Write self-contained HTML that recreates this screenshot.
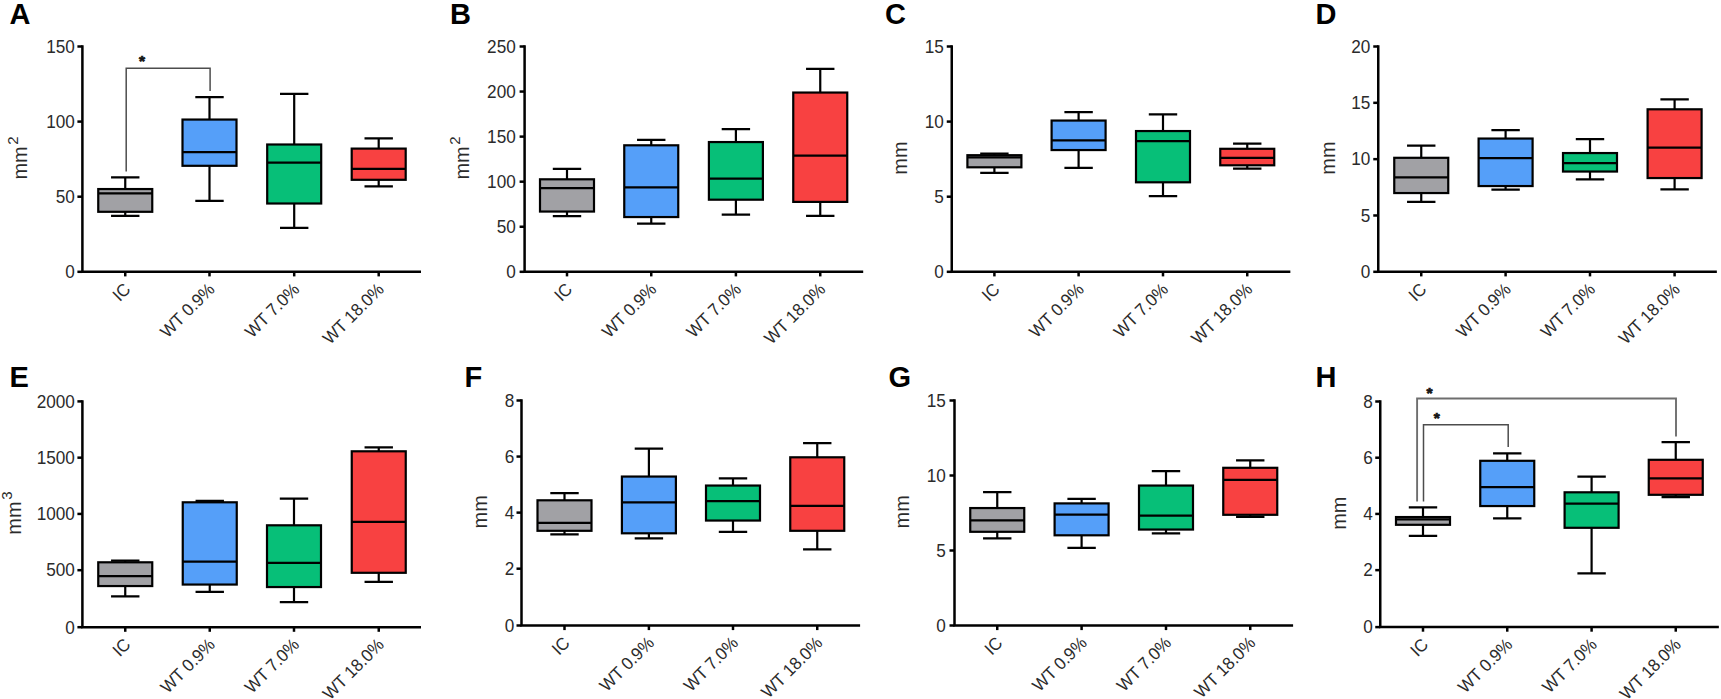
<!DOCTYPE html>
<html lang="en"><head><meta charset="utf-8"><title>Box plots A-H</title>
<style>html,body{margin:0;padding:0;background:#fff}body{width:1721px;height:699px;overflow:hidden}svg{display:block}</style>
</head><body>
<svg width="1721" height="699" viewBox="0 0 1721 699" font-family='"Liberation Sans", sans-serif'>
<rect width="1721" height="699" fill="#fff"/>
<g>
<text x="9.5" y="24.2" font-size="29" font-weight="bold" fill="#000">A</text>
<path d="M82.4 45.25V271.8H421.00" fill="none" stroke="#000" stroke-width="2.5" stroke-linejoin="miter"/>
<line x1="77.40" x2="82.4" y1="271.80" y2="271.80" stroke="#000" stroke-width="2.5"/>
<text transform="translate(74.80 278.10) scale(0.955 1)" font-size="18" text-anchor="end" fill="#2b2b2b">0</text>
<line x1="77.40" x2="82.4" y1="196.70" y2="196.70" stroke="#000" stroke-width="2.5"/>
<text transform="translate(74.80 203.00) scale(0.955 1)" font-size="18" text-anchor="end" fill="#2b2b2b">50</text>
<line x1="77.40" x2="82.4" y1="121.60" y2="121.60" stroke="#000" stroke-width="2.5"/>
<text transform="translate(74.80 127.90) scale(0.955 1)" font-size="18" text-anchor="end" fill="#2b2b2b">100</text>
<line x1="77.40" x2="82.4" y1="46.50" y2="46.50" stroke="#000" stroke-width="2.5"/>
<text transform="translate(74.80 52.80) scale(0.955 1)" font-size="18" text-anchor="end" fill="#2b2b2b">150</text>
<text transform="translate(27.30 179.55) rotate(-90)" font-size="20" fill="#2b2b2b">mm<tspan dy="-9.0" dx="1.6" font-size="15">2</tspan></text>
<line x1="125.25" x2="125.25" y1="271.8" y2="276.40" stroke="#000" stroke-width="2.5"/>
<text transform="translate(131.55 290.40) rotate(-45) scale(0.95 1)" font-size="17.6" text-anchor="end" fill="#2b2b2b">IC</text>
<line x1="209.5" x2="209.5" y1="271.8" y2="276.40" stroke="#000" stroke-width="2.5"/>
<text transform="translate(215.80 290.40) rotate(-45) scale(0.95 1)" font-size="17.6" text-anchor="end" fill="#2b2b2b">WT 0.9%</text>
<line x1="294.2" x2="294.2" y1="271.8" y2="276.40" stroke="#000" stroke-width="2.5"/>
<text transform="translate(300.50 290.40) rotate(-45) scale(0.95 1)" font-size="17.6" text-anchor="end" fill="#2b2b2b">WT 7.0%</text>
<line x1="378.7" x2="378.7" y1="271.8" y2="276.40" stroke="#000" stroke-width="2.5"/>
<text transform="translate(385.00 290.40) rotate(-45) scale(0.95 1)" font-size="17.6" text-anchor="end" fill="#2b2b2b">WT 18.0%</text>
<path d="M125.25 177.3V215.8M111.05 177.3H139.45M111.05 215.8H139.45" stroke="#000" stroke-width="2.2" fill="none"/>
<rect x="98.25" y="189.05" width="54.00" height="22.75" fill="#a1a1a5" stroke="#000" stroke-width="2.2"/>
<line x1="98.25" x2="152.25" y1="193.3" y2="193.3" stroke="#000" stroke-width="2.2"/>
<path d="M209.5 97.05V200.8M195.3 97.05H223.7M195.3 200.8H223.7" stroke="#000" stroke-width="2.2" fill="none"/>
<rect x="182.50" y="119.55" width="54.00" height="46.25" fill="#559ff9" stroke="#000" stroke-width="2.2"/>
<line x1="182.50" x2="236.50" y1="152.05" y2="152.05" stroke="#000" stroke-width="2.2"/>
<path d="M294.2 93.8V227.8M280.0 93.8H308.4M280.0 227.8H308.4" stroke="#000" stroke-width="2.2" fill="none"/>
<rect x="267.20" y="144.5" width="54.00" height="59.00" fill="#07bf78" stroke="#000" stroke-width="2.2"/>
<line x1="267.20" x2="321.20" y1="162.6" y2="162.6" stroke="#000" stroke-width="2.2"/>
<path d="M378.7 138.3V186.3M364.5 138.3H392.9M364.5 186.3H392.9" stroke="#000" stroke-width="2.2" fill="none"/>
<rect x="351.70" y="148.6" width="54.00" height="31.20" fill="#f84141" stroke="#000" stroke-width="2.2"/>
<line x1="351.70" x2="405.70" y1="168.9" y2="168.9" stroke="#000" stroke-width="2.2"/>
</g>
<g>
<text x="449.9" y="24.2" font-size="29" font-weight="bold" fill="#000">B</text>
<path d="M524.6 45.25V271.8H863.20" fill="none" stroke="#000" stroke-width="2.5" stroke-linejoin="miter"/>
<line x1="519.60" x2="524.6" y1="271.80" y2="271.80" stroke="#000" stroke-width="2.5"/>
<text transform="translate(515.75 278.10) scale(0.955 1)" font-size="18" text-anchor="end" fill="#2b2b2b">0</text>
<line x1="519.60" x2="524.6" y1="226.74" y2="226.74" stroke="#000" stroke-width="2.5"/>
<text transform="translate(515.75 233.04) scale(0.955 1)" font-size="18" text-anchor="end" fill="#2b2b2b">50</text>
<line x1="519.60" x2="524.6" y1="181.68" y2="181.68" stroke="#000" stroke-width="2.5"/>
<text transform="translate(515.75 187.98) scale(0.955 1)" font-size="18" text-anchor="end" fill="#2b2b2b">100</text>
<line x1="519.60" x2="524.6" y1="136.62" y2="136.62" stroke="#000" stroke-width="2.5"/>
<text transform="translate(515.75 142.92) scale(0.955 1)" font-size="18" text-anchor="end" fill="#2b2b2b">150</text>
<line x1="519.60" x2="524.6" y1="91.56" y2="91.56" stroke="#000" stroke-width="2.5"/>
<text transform="translate(515.75 97.86) scale(0.955 1)" font-size="18" text-anchor="end" fill="#2b2b2b">200</text>
<line x1="519.60" x2="524.6" y1="46.50" y2="46.50" stroke="#000" stroke-width="2.5"/>
<text transform="translate(515.75 52.80) scale(0.955 1)" font-size="18" text-anchor="end" fill="#2b2b2b">250</text>
<text transform="translate(469.30 179.55) rotate(-90)" font-size="20" fill="#2b2b2b">mm<tspan dy="-9.0" dx="1.6" font-size="15">2</tspan></text>
<line x1="567" x2="567" y1="271.8" y2="276.40" stroke="#000" stroke-width="2.5"/>
<text transform="translate(573.30 290.40) rotate(-45) scale(0.95 1)" font-size="17.6" text-anchor="end" fill="#2b2b2b">IC</text>
<line x1="651.25" x2="651.25" y1="271.8" y2="276.40" stroke="#000" stroke-width="2.5"/>
<text transform="translate(657.55 290.40) rotate(-45) scale(0.95 1)" font-size="17.6" text-anchor="end" fill="#2b2b2b">WT 0.9%</text>
<line x1="735.9" x2="735.9" y1="271.8" y2="276.40" stroke="#000" stroke-width="2.5"/>
<text transform="translate(742.20 290.40) rotate(-45) scale(0.95 1)" font-size="17.6" text-anchor="end" fill="#2b2b2b">WT 7.0%</text>
<line x1="820.25" x2="820.25" y1="271.8" y2="276.40" stroke="#000" stroke-width="2.5"/>
<text transform="translate(826.55 290.40) rotate(-45) scale(0.95 1)" font-size="17.6" text-anchor="end" fill="#2b2b2b">WT 18.0%</text>
<path d="M567 168.8V216.05M552.8 168.8H581.2M552.8 216.05H581.2" stroke="#000" stroke-width="2.2" fill="none"/>
<rect x="540.00" y="179.3" width="54.00" height="32.25" fill="#a1a1a5" stroke="#000" stroke-width="2.2"/>
<line x1="540.00" x2="594.00" y1="188.05" y2="188.05" stroke="#000" stroke-width="2.2"/>
<path d="M651.25 139.8V223.55M637.05 139.8H665.45M637.05 223.55H665.45" stroke="#000" stroke-width="2.2" fill="none"/>
<rect x="624.25" y="145.3" width="54.00" height="71.75" fill="#559ff9" stroke="#000" stroke-width="2.2"/>
<line x1="624.25" x2="678.25" y1="187.3" y2="187.3" stroke="#000" stroke-width="2.2"/>
<path d="M735.9 129.05V214.55M721.6999999999999 129.05H750.1M721.6999999999999 214.55H750.1" stroke="#000" stroke-width="2.2" fill="none"/>
<rect x="708.90" y="142.05" width="54.00" height="57.65" fill="#07bf78" stroke="#000" stroke-width="2.2"/>
<line x1="708.90" x2="762.90" y1="178.55" y2="178.55" stroke="#000" stroke-width="2.2"/>
<path d="M820.25 68.8V215.8M806.05 68.8H834.45M806.05 215.8H834.45" stroke="#000" stroke-width="2.2" fill="none"/>
<rect x="793.25" y="92.55" width="54.00" height="109.35" fill="#f84141" stroke="#000" stroke-width="2.2"/>
<line x1="793.25" x2="847.25" y1="155.55" y2="155.55" stroke="#000" stroke-width="2.2"/>
</g>
<g>
<text x="885.0" y="24.2" font-size="29" font-weight="bold" fill="#000">C</text>
<path d="M951.75 45.25V271.8H1290.35" fill="none" stroke="#000" stroke-width="2.5" stroke-linejoin="miter"/>
<line x1="946.75" x2="951.75" y1="271.80" y2="271.80" stroke="#000" stroke-width="2.5"/>
<text transform="translate(943.75 278.10) scale(0.955 1)" font-size="18" text-anchor="end" fill="#2b2b2b">0</text>
<line x1="946.75" x2="951.75" y1="196.70" y2="196.70" stroke="#000" stroke-width="2.5"/>
<text transform="translate(943.75 203.00) scale(0.955 1)" font-size="18" text-anchor="end" fill="#2b2b2b">5</text>
<line x1="946.75" x2="951.75" y1="121.60" y2="121.60" stroke="#000" stroke-width="2.5"/>
<text transform="translate(943.75 127.90) scale(0.955 1)" font-size="18" text-anchor="end" fill="#2b2b2b">10</text>
<line x1="946.75" x2="951.75" y1="46.50" y2="46.50" stroke="#000" stroke-width="2.5"/>
<text transform="translate(943.75 52.80) scale(0.955 1)" font-size="18" text-anchor="end" fill="#2b2b2b">15</text>
<text transform="translate(907.30 174.65) rotate(-90)" font-size="20" fill="#2b2b2b">mm</text>
<line x1="994.4" x2="994.4" y1="271.8" y2="276.40" stroke="#000" stroke-width="2.5"/>
<text transform="translate(1000.70 290.40) rotate(-45) scale(0.95 1)" font-size="17.6" text-anchor="end" fill="#2b2b2b">IC</text>
<line x1="1078.6" x2="1078.6" y1="271.8" y2="276.40" stroke="#000" stroke-width="2.5"/>
<text transform="translate(1084.90 290.40) rotate(-45) scale(0.95 1)" font-size="17.6" text-anchor="end" fill="#2b2b2b">WT 0.9%</text>
<line x1="1163" x2="1163" y1="271.8" y2="276.40" stroke="#000" stroke-width="2.5"/>
<text transform="translate(1169.30 290.40) rotate(-45) scale(0.95 1)" font-size="17.6" text-anchor="end" fill="#2b2b2b">WT 7.0%</text>
<line x1="1247.25" x2="1247.25" y1="271.8" y2="276.40" stroke="#000" stroke-width="2.5"/>
<text transform="translate(1253.55 290.40) rotate(-45) scale(0.95 1)" font-size="17.6" text-anchor="end" fill="#2b2b2b">WT 18.0%</text>
<path d="M994.4 153.7V172.8M980.1999999999999 153.7H1008.6M980.1999999999999 172.8H1008.6" stroke="#000" stroke-width="2.2" fill="none"/>
<rect x="967.40" y="155.2" width="54.00" height="12.10" fill="#a1a1a5" stroke="#000" stroke-width="2.2"/>
<line x1="967.40" x2="1021.40" y1="157.3" y2="157.3" stroke="#000" stroke-width="2.2"/>
<path d="M1078.6 112.05V167.8M1064.3999999999999 112.05H1092.8M1064.3999999999999 167.8H1092.8" stroke="#000" stroke-width="2.2" fill="none"/>
<rect x="1051.60" y="120.55" width="54.00" height="29.50" fill="#559ff9" stroke="#000" stroke-width="2.2"/>
<line x1="1051.60" x2="1105.60" y1="140.3" y2="140.3" stroke="#000" stroke-width="2.2"/>
<path d="M1163 114.3V196.05M1148.8 114.3H1177.2M1148.8 196.05H1177.2" stroke="#000" stroke-width="2.2" fill="none"/>
<rect x="1136.00" y="131.05" width="54.00" height="51.25" fill="#07bf78" stroke="#000" stroke-width="2.2"/>
<line x1="1136.00" x2="1190.00" y1="141.05" y2="141.05" stroke="#000" stroke-width="2.2"/>
<path d="M1247.25 143.55V168.55M1233.05 143.55H1261.45M1233.05 168.55H1261.45" stroke="#000" stroke-width="2.2" fill="none"/>
<rect x="1220.25" y="148.8" width="54.00" height="16.50" fill="#f84141" stroke="#000" stroke-width="2.2"/>
<line x1="1220.25" x2="1274.25" y1="157.8" y2="157.8" stroke="#000" stroke-width="2.2"/>
</g>
<g>
<text x="1315.6" y="24.2" font-size="29" font-weight="bold" fill="#000">D</text>
<path d="M1378.25 45.25V271.8H1716.85" fill="none" stroke="#000" stroke-width="2.5" stroke-linejoin="miter"/>
<line x1="1373.25" x2="1378.25" y1="271.80" y2="271.80" stroke="#000" stroke-width="2.5"/>
<text transform="translate(1370.25 278.10) scale(0.955 1)" font-size="18" text-anchor="end" fill="#2b2b2b">0</text>
<line x1="1373.25" x2="1378.25" y1="215.48" y2="215.48" stroke="#000" stroke-width="2.5"/>
<text transform="translate(1370.25 221.78) scale(0.955 1)" font-size="18" text-anchor="end" fill="#2b2b2b">5</text>
<line x1="1373.25" x2="1378.25" y1="159.15" y2="159.15" stroke="#000" stroke-width="2.5"/>
<text transform="translate(1370.25 165.45) scale(0.955 1)" font-size="18" text-anchor="end" fill="#2b2b2b">10</text>
<line x1="1373.25" x2="1378.25" y1="102.82" y2="102.82" stroke="#000" stroke-width="2.5"/>
<text transform="translate(1370.25 109.12) scale(0.955 1)" font-size="18" text-anchor="end" fill="#2b2b2b">15</text>
<line x1="1373.25" x2="1378.25" y1="46.50" y2="46.50" stroke="#000" stroke-width="2.5"/>
<text transform="translate(1370.25 52.80) scale(0.955 1)" font-size="18" text-anchor="end" fill="#2b2b2b">20</text>
<text transform="translate(1334.55 174.65) rotate(-90)" font-size="20" fill="#2b2b2b">mm</text>
<line x1="1421.25" x2="1421.25" y1="271.8" y2="276.40" stroke="#000" stroke-width="2.5"/>
<text transform="translate(1427.55 290.40) rotate(-45) scale(0.95 1)" font-size="17.6" text-anchor="end" fill="#2b2b2b">IC</text>
<line x1="1505.6" x2="1505.6" y1="271.8" y2="276.40" stroke="#000" stroke-width="2.5"/>
<text transform="translate(1511.90 290.40) rotate(-45) scale(0.95 1)" font-size="17.6" text-anchor="end" fill="#2b2b2b">WT 0.9%</text>
<line x1="1590" x2="1590" y1="271.8" y2="276.40" stroke="#000" stroke-width="2.5"/>
<text transform="translate(1596.30 290.40) rotate(-45) scale(0.95 1)" font-size="17.6" text-anchor="end" fill="#2b2b2b">WT 7.0%</text>
<line x1="1674.6" x2="1674.6" y1="271.8" y2="276.40" stroke="#000" stroke-width="2.5"/>
<text transform="translate(1680.90 290.40) rotate(-45) scale(0.95 1)" font-size="17.6" text-anchor="end" fill="#2b2b2b">WT 18.0%</text>
<path d="M1421.25 145.55V201.8M1407.05 145.55H1435.45M1407.05 201.8H1435.45" stroke="#000" stroke-width="2.2" fill="none"/>
<rect x="1394.25" y="157.8" width="54.00" height="35.25" fill="#a1a1a5" stroke="#000" stroke-width="2.2"/>
<line x1="1394.25" x2="1448.25" y1="177.3" y2="177.3" stroke="#000" stroke-width="2.2"/>
<path d="M1505.6 130.05V189.55M1491.3999999999999 130.05H1519.8M1491.3999999999999 189.55H1519.8" stroke="#000" stroke-width="2.2" fill="none"/>
<rect x="1478.60" y="138.55" width="54.00" height="47.50" fill="#559ff9" stroke="#000" stroke-width="2.2"/>
<line x1="1478.60" x2="1532.60" y1="158.05" y2="158.05" stroke="#000" stroke-width="2.2"/>
<path d="M1590 139.05V179.3M1575.8 139.05H1604.2M1575.8 179.3H1604.2" stroke="#000" stroke-width="2.2" fill="none"/>
<rect x="1563.00" y="153.05" width="54.00" height="18.50" fill="#07bf78" stroke="#000" stroke-width="2.2"/>
<line x1="1563.00" x2="1617.00" y1="163.05" y2="163.05" stroke="#000" stroke-width="2.2"/>
<path d="M1674.6 99.3V189.3M1660.3999999999999 99.3H1688.8M1660.3999999999999 189.3H1688.8" stroke="#000" stroke-width="2.2" fill="none"/>
<rect x="1647.60" y="109.3" width="54.00" height="68.75" fill="#f84141" stroke="#000" stroke-width="2.2"/>
<line x1="1647.60" x2="1701.60" y1="147.55" y2="147.55" stroke="#000" stroke-width="2.2"/>
</g>
<g>
<text x="9.5" y="387" font-size="29" font-weight="bold" fill="#000">E</text>
<path d="M82.4 400.15V627.2H421.00" fill="none" stroke="#000" stroke-width="2.5" stroke-linejoin="miter"/>
<line x1="77.40" x2="82.4" y1="627.20" y2="627.20" stroke="#000" stroke-width="2.5"/>
<text transform="translate(74.90 633.50) scale(0.955 1)" font-size="18" text-anchor="end" fill="#2b2b2b">0</text>
<line x1="77.40" x2="82.4" y1="570.19" y2="570.19" stroke="#000" stroke-width="2.5"/>
<text transform="translate(74.90 576.49) scale(0.955 1)" font-size="18" text-anchor="end" fill="#2b2b2b">500</text>
<line x1="77.40" x2="82.4" y1="513.92" y2="513.92" stroke="#000" stroke-width="2.5"/>
<text transform="translate(74.90 520.22) scale(0.955 1)" font-size="18" text-anchor="end" fill="#2b2b2b">1000</text>
<line x1="77.40" x2="82.4" y1="457.66" y2="457.66" stroke="#000" stroke-width="2.5"/>
<text transform="translate(74.90 463.96) scale(0.955 1)" font-size="18" text-anchor="end" fill="#2b2b2b">1500</text>
<line x1="77.40" x2="82.4" y1="401.40" y2="401.40" stroke="#000" stroke-width="2.5"/>
<text transform="translate(74.90 407.70) scale(0.955 1)" font-size="18" text-anchor="end" fill="#2b2b2b">2000</text>
<text transform="translate(20.50 534.70) rotate(-90)" font-size="20" fill="#2b2b2b">mm<tspan dy="-9.0" dx="1.6" font-size="15">3</tspan></text>
<line x1="125.25" x2="125.25" y1="627.2" y2="631.80" stroke="#000" stroke-width="2.5"/>
<text transform="translate(131.55 645.80) rotate(-45) scale(0.95 1)" font-size="17.6" text-anchor="end" fill="#2b2b2b">IC</text>
<line x1="209.75" x2="209.75" y1="627.2" y2="631.80" stroke="#000" stroke-width="2.5"/>
<text transform="translate(216.05 645.80) rotate(-45) scale(0.95 1)" font-size="17.6" text-anchor="end" fill="#2b2b2b">WT 0.9%</text>
<line x1="294" x2="294" y1="627.2" y2="631.80" stroke="#000" stroke-width="2.5"/>
<text transform="translate(300.30 645.80) rotate(-45) scale(0.95 1)" font-size="17.6" text-anchor="end" fill="#2b2b2b">WT 7.0%</text>
<line x1="378.75" x2="378.75" y1="627.2" y2="631.80" stroke="#000" stroke-width="2.5"/>
<text transform="translate(385.05 645.80) rotate(-45) scale(0.95 1)" font-size="17.6" text-anchor="end" fill="#2b2b2b">WT 18.0%</text>
<path d="M125.25 560.55V596.3M111.05 560.55H139.45M111.05 596.3H139.45" stroke="#000" stroke-width="2.2" fill="none"/>
<rect x="98.25" y="562.3" width="54.00" height="23.75" fill="#a1a1a5" stroke="#000" stroke-width="2.2"/>
<line x1="98.25" x2="152.25" y1="576.05" y2="576.05" stroke="#000" stroke-width="2.2"/>
<path d="M209.75 500.8V591.8M195.55 500.8H223.95M195.55 591.8H223.95" stroke="#000" stroke-width="2.2" fill="none"/>
<rect x="182.75" y="502.3" width="54.00" height="82.25" fill="#559ff9" stroke="#000" stroke-width="2.2"/>
<line x1="182.75" x2="236.75" y1="561.55" y2="561.55" stroke="#000" stroke-width="2.2"/>
<path d="M294 498.55V602.05M279.8 498.55H308.2M279.8 602.05H308.2" stroke="#000" stroke-width="2.2" fill="none"/>
<rect x="267.00" y="525.3" width="54.00" height="61.75" fill="#07bf78" stroke="#000" stroke-width="2.2"/>
<line x1="267.00" x2="321.00" y1="562.8" y2="562.8" stroke="#000" stroke-width="2.2"/>
<path d="M378.75 447.3V581.8M364.55 447.3H392.95M364.55 581.8H392.95" stroke="#000" stroke-width="2.2" fill="none"/>
<rect x="351.75" y="451.3" width="54.00" height="121.50" fill="#f84141" stroke="#000" stroke-width="2.2"/>
<line x1="351.75" x2="405.75" y1="521.8" y2="521.8" stroke="#000" stroke-width="2.2"/>
</g>
<g>
<text x="464.5" y="387" font-size="29" font-weight="bold" fill="#000">F</text>
<path d="M521.5 399.25V625.5H860.10" fill="none" stroke="#000" stroke-width="2.5" stroke-linejoin="miter"/>
<line x1="516.50" x2="521.5" y1="625.50" y2="625.50" stroke="#000" stroke-width="2.5"/>
<text transform="translate(514.25 631.80) scale(0.955 1)" font-size="18" text-anchor="end" fill="#2b2b2b">0</text>
<line x1="516.50" x2="521.5" y1="568.69" y2="568.69" stroke="#000" stroke-width="2.5"/>
<text transform="translate(514.25 574.99) scale(0.955 1)" font-size="18" text-anchor="end" fill="#2b2b2b">2</text>
<line x1="516.50" x2="521.5" y1="512.62" y2="512.62" stroke="#000" stroke-width="2.5"/>
<text transform="translate(514.25 518.92) scale(0.955 1)" font-size="18" text-anchor="end" fill="#2b2b2b">4</text>
<line x1="516.50" x2="521.5" y1="456.56" y2="456.56" stroke="#000" stroke-width="2.5"/>
<text transform="translate(514.25 462.86) scale(0.955 1)" font-size="18" text-anchor="end" fill="#2b2b2b">6</text>
<line x1="516.50" x2="521.5" y1="400.50" y2="400.50" stroke="#000" stroke-width="2.5"/>
<text transform="translate(514.25 406.80) scale(0.955 1)" font-size="18" text-anchor="end" fill="#2b2b2b">8</text>
<text transform="translate(487.30 528.50) rotate(-90)" font-size="20" fill="#2b2b2b">mm</text>
<line x1="564.5" x2="564.5" y1="625.5" y2="630.10" stroke="#000" stroke-width="2.5"/>
<text transform="translate(570.80 644.10) rotate(-45) scale(0.95 1)" font-size="17.6" text-anchor="end" fill="#2b2b2b">IC</text>
<line x1="648.9" x2="648.9" y1="625.5" y2="630.10" stroke="#000" stroke-width="2.5"/>
<text transform="translate(655.20 644.10) rotate(-45) scale(0.95 1)" font-size="17.6" text-anchor="end" fill="#2b2b2b">WT 0.9%</text>
<line x1="733" x2="733" y1="625.5" y2="630.10" stroke="#000" stroke-width="2.5"/>
<text transform="translate(739.30 644.10) rotate(-45) scale(0.95 1)" font-size="17.6" text-anchor="end" fill="#2b2b2b">WT 7.0%</text>
<line x1="817.25" x2="817.25" y1="625.5" y2="630.10" stroke="#000" stroke-width="2.5"/>
<text transform="translate(823.55 644.10) rotate(-45) scale(0.95 1)" font-size="17.6" text-anchor="end" fill="#2b2b2b">WT 18.0%</text>
<path d="M564.5 493.05V534.3M550.3 493.05H578.7M550.3 534.3H578.7" stroke="#000" stroke-width="2.2" fill="none"/>
<rect x="537.50" y="500.3" width="54.00" height="30.50" fill="#a1a1a5" stroke="#000" stroke-width="2.2"/>
<line x1="537.50" x2="591.50" y1="522.8" y2="522.8" stroke="#000" stroke-width="2.2"/>
<path d="M648.9 448.55V538.3M634.6999999999999 448.55H663.1M634.6999999999999 538.3H663.1" stroke="#000" stroke-width="2.2" fill="none"/>
<rect x="621.90" y="476.55" width="54.00" height="56.75" fill="#559ff9" stroke="#000" stroke-width="2.2"/>
<line x1="621.90" x2="675.90" y1="502.3" y2="502.3" stroke="#000" stroke-width="2.2"/>
<path d="M733 478.3V531.8M718.8 478.3H747.2M718.8 531.8H747.2" stroke="#000" stroke-width="2.2" fill="none"/>
<rect x="706.00" y="485.55" width="54.00" height="35.00" fill="#07bf78" stroke="#000" stroke-width="2.2"/>
<line x1="706.00" x2="760.00" y1="501.05" y2="501.05" stroke="#000" stroke-width="2.2"/>
<path d="M817.25 443.05V549.3M803.05 443.05H831.45M803.05 549.3H831.45" stroke="#000" stroke-width="2.2" fill="none"/>
<rect x="790.25" y="457.3" width="54.00" height="73.50" fill="#f84141" stroke="#000" stroke-width="2.2"/>
<line x1="790.25" x2="844.25" y1="505.8" y2="505.8" stroke="#000" stroke-width="2.2"/>
</g>
<g>
<text x="888.5" y="387" font-size="29" font-weight="bold" fill="#000">G</text>
<path d="M954.5 399.25V625.5H1293.10" fill="none" stroke="#000" stroke-width="2.5" stroke-linejoin="miter"/>
<line x1="949.50" x2="954.5" y1="625.50" y2="625.50" stroke="#000" stroke-width="2.5"/>
<text transform="translate(945.75 631.80) scale(0.955 1)" font-size="18" text-anchor="end" fill="#2b2b2b">0</text>
<line x1="949.50" x2="954.5" y1="550.50" y2="550.50" stroke="#000" stroke-width="2.5"/>
<text transform="translate(945.75 556.80) scale(0.955 1)" font-size="18" text-anchor="end" fill="#2b2b2b">5</text>
<line x1="949.50" x2="954.5" y1="475.50" y2="475.50" stroke="#000" stroke-width="2.5"/>
<text transform="translate(945.75 481.80) scale(0.955 1)" font-size="18" text-anchor="end" fill="#2b2b2b">10</text>
<line x1="949.50" x2="954.5" y1="400.50" y2="400.50" stroke="#000" stroke-width="2.5"/>
<text transform="translate(945.75 406.80) scale(0.955 1)" font-size="18" text-anchor="end" fill="#2b2b2b">15</text>
<text transform="translate(909.30 528.50) rotate(-90)" font-size="20" fill="#2b2b2b">mm</text>
<line x1="997.25" x2="997.25" y1="625.5" y2="630.10" stroke="#000" stroke-width="2.5"/>
<text transform="translate(1003.55 644.10) rotate(-45) scale(0.95 1)" font-size="17.6" text-anchor="end" fill="#2b2b2b">IC</text>
<line x1="1081.6" x2="1081.6" y1="625.5" y2="630.10" stroke="#000" stroke-width="2.5"/>
<text transform="translate(1087.90 644.10) rotate(-45) scale(0.95 1)" font-size="17.6" text-anchor="end" fill="#2b2b2b">WT 0.9%</text>
<line x1="1166" x2="1166" y1="625.5" y2="630.10" stroke="#000" stroke-width="2.5"/>
<text transform="translate(1172.30 644.10) rotate(-45) scale(0.95 1)" font-size="17.6" text-anchor="end" fill="#2b2b2b">WT 7.0%</text>
<line x1="1250.25" x2="1250.25" y1="625.5" y2="630.10" stroke="#000" stroke-width="2.5"/>
<text transform="translate(1256.55 644.10) rotate(-45) scale(0.95 1)" font-size="17.6" text-anchor="end" fill="#2b2b2b">WT 18.0%</text>
<path d="M997.25 492.05V538.3M983.05 492.05H1011.45M983.05 538.3H1011.45" stroke="#000" stroke-width="2.2" fill="none"/>
<rect x="970.25" y="508.05" width="54.00" height="23.75" fill="#a1a1a5" stroke="#000" stroke-width="2.2"/>
<line x1="970.25" x2="1024.25" y1="520.4" y2="520.4" stroke="#000" stroke-width="2.2"/>
<path d="M1081.6 498.9V547.8M1067.3999999999999 498.9H1095.8M1067.3999999999999 547.8H1095.8" stroke="#000" stroke-width="2.2" fill="none"/>
<rect x="1054.60" y="503.4" width="54.00" height="31.90" fill="#559ff9" stroke="#000" stroke-width="2.2"/>
<line x1="1054.60" x2="1108.60" y1="514.55" y2="514.55" stroke="#000" stroke-width="2.2"/>
<path d="M1166 471.05V533.3M1151.8 471.05H1180.2M1151.8 533.3H1180.2" stroke="#000" stroke-width="2.2" fill="none"/>
<rect x="1139.00" y="485.55" width="54.00" height="44.00" fill="#07bf78" stroke="#000" stroke-width="2.2"/>
<line x1="1139.00" x2="1193.00" y1="515.7" y2="515.7" stroke="#000" stroke-width="2.2"/>
<path d="M1250.25 460.3V516.8M1236.05 460.3H1264.45M1236.05 516.8H1264.45" stroke="#000" stroke-width="2.2" fill="none"/>
<rect x="1223.25" y="467.8" width="54.00" height="47.00" fill="#f84141" stroke="#000" stroke-width="2.2"/>
<line x1="1223.25" x2="1277.25" y1="479.8" y2="479.8" stroke="#000" stroke-width="2.2"/>
</g>
<g>
<text x="1315.5" y="387" font-size="29" font-weight="bold" fill="#000">H</text>
<path d="M1380.25 400.25V627.1H1718.85" fill="none" stroke="#000" stroke-width="2.5" stroke-linejoin="miter"/>
<line x1="1375.25" x2="1380.25" y1="627.10" y2="627.10" stroke="#000" stroke-width="2.5"/>
<text transform="translate(1372.75 633.40) scale(0.955 1)" font-size="18" text-anchor="end" fill="#2b2b2b">0</text>
<line x1="1375.25" x2="1380.25" y1="570.14" y2="570.14" stroke="#000" stroke-width="2.5"/>
<text transform="translate(1372.75 576.44) scale(0.955 1)" font-size="18" text-anchor="end" fill="#2b2b2b">2</text>
<line x1="1375.25" x2="1380.25" y1="513.92" y2="513.92" stroke="#000" stroke-width="2.5"/>
<text transform="translate(1372.75 520.22) scale(0.955 1)" font-size="18" text-anchor="end" fill="#2b2b2b">4</text>
<line x1="1375.25" x2="1380.25" y1="457.71" y2="457.71" stroke="#000" stroke-width="2.5"/>
<text transform="translate(1372.75 464.01) scale(0.955 1)" font-size="18" text-anchor="end" fill="#2b2b2b">6</text>
<line x1="1375.25" x2="1380.25" y1="401.50" y2="401.50" stroke="#000" stroke-width="2.5"/>
<text transform="translate(1372.75 407.80) scale(0.955 1)" font-size="18" text-anchor="end" fill="#2b2b2b">8</text>
<text transform="translate(1346.30 529.80) rotate(-90)" font-size="20" fill="#2b2b2b">mm</text>
<line x1="1423" x2="1423" y1="627.1" y2="631.70" stroke="#000" stroke-width="2.5"/>
<text transform="translate(1429.30 645.70) rotate(-45) scale(0.95 1)" font-size="17.6" text-anchor="end" fill="#2b2b2b">IC</text>
<line x1="1507.25" x2="1507.25" y1="627.1" y2="631.70" stroke="#000" stroke-width="2.5"/>
<text transform="translate(1513.55 645.70) rotate(-45) scale(0.95 1)" font-size="17.6" text-anchor="end" fill="#2b2b2b">WT 0.9%</text>
<line x1="1591.6" x2="1591.6" y1="627.1" y2="631.70" stroke="#000" stroke-width="2.5"/>
<text transform="translate(1597.90 645.70) rotate(-45) scale(0.95 1)" font-size="17.6" text-anchor="end" fill="#2b2b2b">WT 7.0%</text>
<line x1="1675.75" x2="1675.75" y1="627.1" y2="631.70" stroke="#000" stroke-width="2.5"/>
<text transform="translate(1682.05 645.70) rotate(-45) scale(0.95 1)" font-size="17.6" text-anchor="end" fill="#2b2b2b">WT 18.0%</text>
<path d="M1423 507.3V535.8M1408.8 507.3H1437.2M1408.8 535.8H1437.2" stroke="#000" stroke-width="2.2" fill="none"/>
<rect x="1396.00" y="517.05" width="54.00" height="7.75" fill="#a1a1a5" stroke="#000" stroke-width="2.2"/>
<line x1="1396.00" x2="1450.00" y1="519.3" y2="519.3" stroke="#000" stroke-width="2.2"/>
<path d="M1507.25 453.3V518.4M1493.05 453.3H1521.45M1493.05 518.4H1521.45" stroke="#000" stroke-width="2.2" fill="none"/>
<rect x="1480.25" y="460.8" width="54.00" height="45.25" fill="#559ff9" stroke="#000" stroke-width="2.2"/>
<line x1="1480.25" x2="1534.25" y1="487.05" y2="487.05" stroke="#000" stroke-width="2.2"/>
<path d="M1591.6 476.55V573.3M1577.3999999999999 476.55H1605.8M1577.3999999999999 573.3H1605.8" stroke="#000" stroke-width="2.2" fill="none"/>
<rect x="1564.60" y="492.3" width="54.00" height="35.50" fill="#07bf78" stroke="#000" stroke-width="2.2"/>
<line x1="1564.60" x2="1618.60" y1="503.55" y2="503.55" stroke="#000" stroke-width="2.2"/>
<path d="M1675.75 442.05V497.2M1661.55 442.05H1689.95M1661.55 497.2H1689.95" stroke="#000" stroke-width="2.2" fill="none"/>
<rect x="1648.75" y="459.8" width="54.00" height="35.00" fill="#f84141" stroke="#000" stroke-width="2.2"/>
<line x1="1648.75" x2="1702.75" y1="478.3" y2="478.3" stroke="#000" stroke-width="2.2"/>
</g>
<path d="M126.2 171.5V68.3H210.1V90.9" fill="none" stroke="#4d4d4d" stroke-width="1.5"/>
<path d="M1417.1 501.5V398.5H1676V436.5" fill="none" stroke="#6e6e6e" stroke-width="1.9"/>
<path d="M1423.5 501.5V424.7H1508.2V447" fill="none" stroke="#4d4d4d" stroke-width="1.5"/>
<text x="142" y="66.2" font-size="15.5" font-weight="bold" text-anchor="middle" fill="#151515" stroke="#151515" stroke-width="0.7">*</text>
<text x="1429.6" y="398.3" font-size="15.5" font-weight="bold" text-anchor="middle" fill="#151515" stroke="#151515" stroke-width="0.7">*</text>
<text x="1436.8" y="423.2" font-size="15.5" font-weight="bold" text-anchor="middle" fill="#151515" stroke="#151515" stroke-width="0.7">*</text>
</svg>
</body></html>
